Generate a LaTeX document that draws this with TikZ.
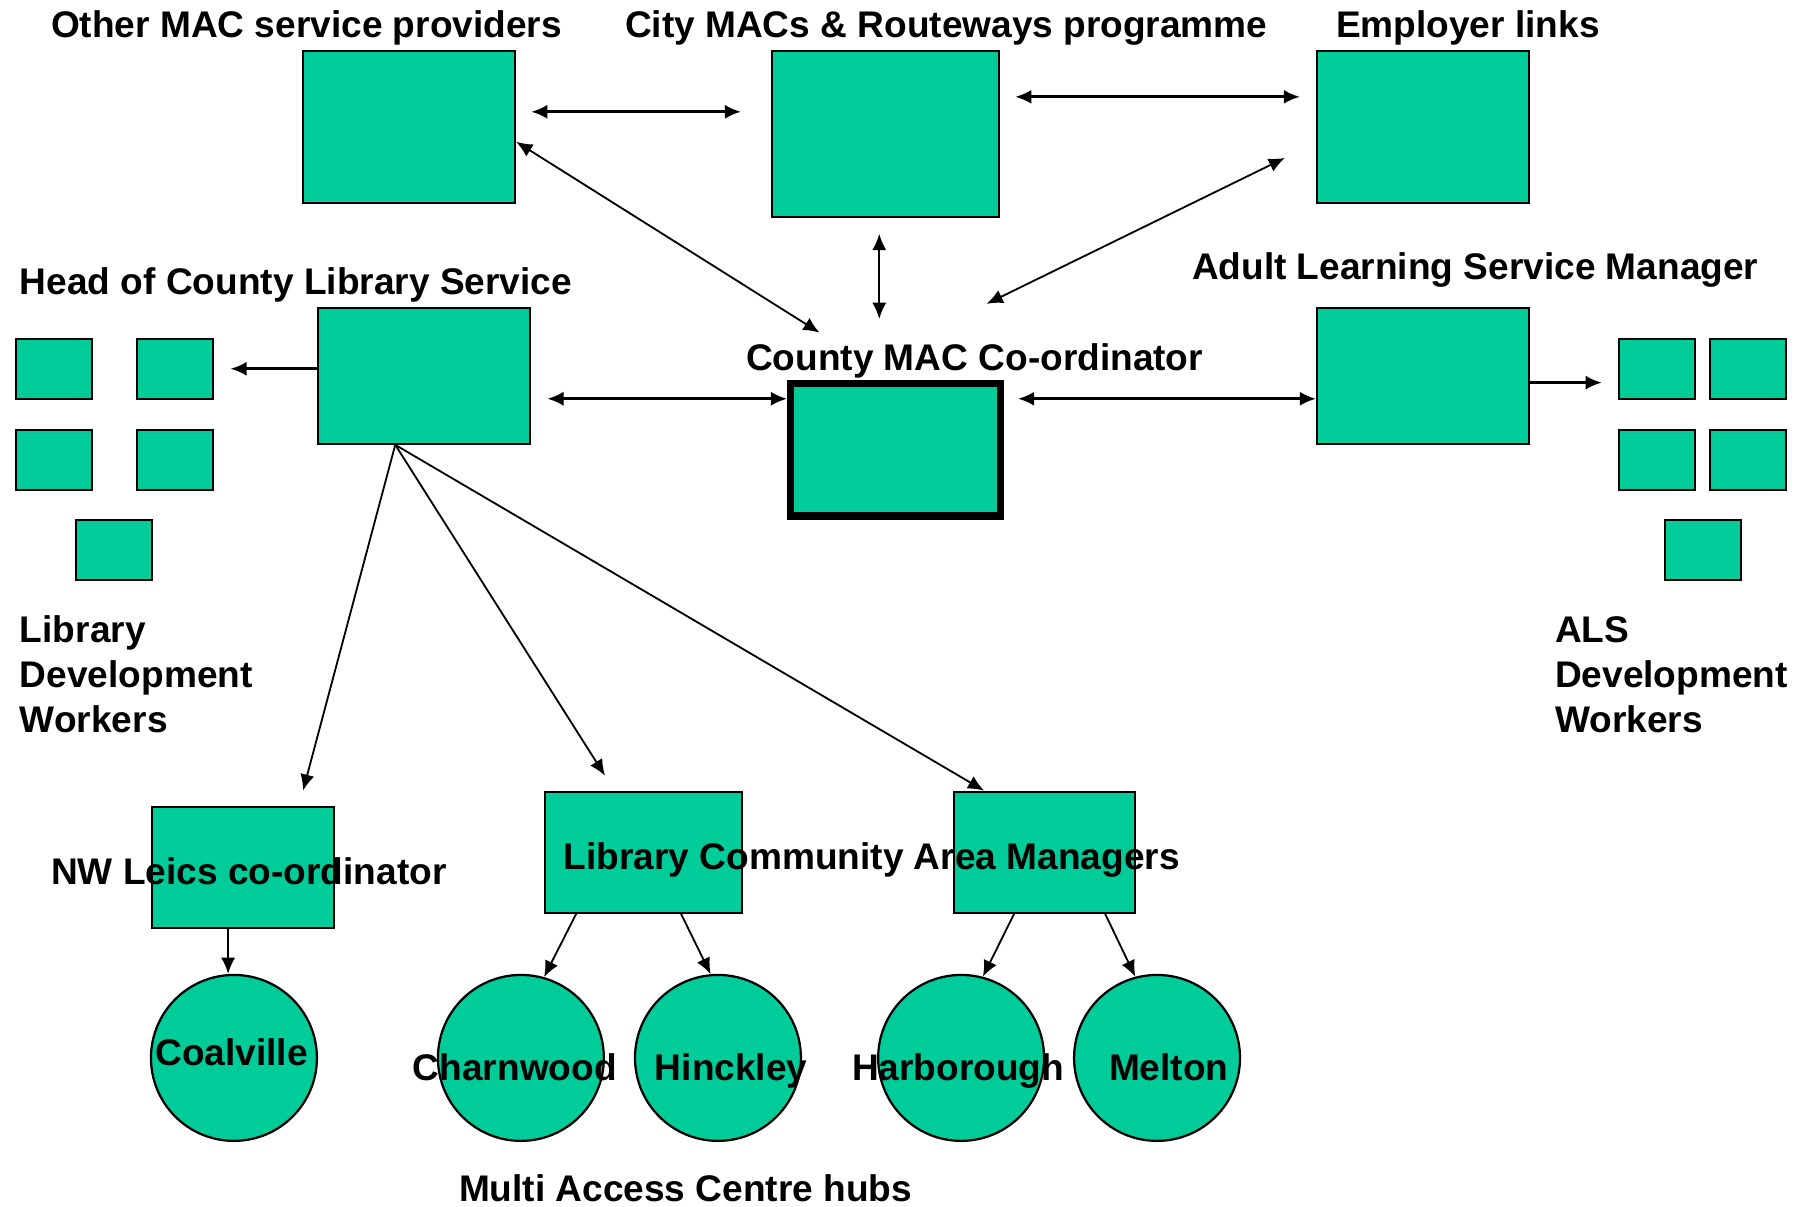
\documentclass[tikz,border=0pt]{standalone}
\usepackage{fontspec}
\setmainfont{Liberation Sans}
\usepackage{tikz}
\usetikzlibrary{arrows.meta}
\definecolor{macgreen}{RGB}{0,204,153}

\tikzset{
  box/.style={rectangle, draw=black, line width=1.1pt, fill=macgreen, anchor=south west, inner sep=0pt},
  hub/.style={circle, draw=black, line width=1.1pt, fill=macgreen, minimum size=2.88cm, inner sep=0pt},
  lbl/.style={anchor=base west, inner sep=0pt, font=\fontsize{18.3}{22.1}\selectfont\bfseries},
}

\begin{document}
\begin{tikzpicture}
\useasboundingbox (0,0) rectangle (31.36,20.94);

% top row
\node at (5.24,17.40) [box, minimum width=3.68cm, minimum height=2.64cm] (op) {};
\node at (13.38,17.16) [box, minimum width=3.94cm, minimum height=2.88cm] (city) {};
\node at (22.84,17.40) [box, minimum width=3.68cm, minimum height=2.64cm] (emp) {};
\node [lbl] at (0.88,20.29) (opt) {Other MAC service providers};
\node [lbl] at (10.84,20.29) (cityt) {City MACs \& Routeways programme};
\node [lbl] at (23.18,20.29) (empt) {Employer links};

% middle row
\node at (5.50,13.22) [box, minimum width=3.68cm, minimum height=2.36cm] (head) {};
\node at (13.66,11.92) [box, line width=3.6pt, minimum width=3.64cm, minimum height=2.30cm] (coord) {};
\node at (22.84,13.22) [box, minimum width=3.68cm, minimum height=2.36cm] (als) {};
\node [lbl] at (0.34,15.83) (headt) {Head of County Library Service};
\node [lbl] at (12.94,14.51) (coordt) {County MAC Co-ordinator};
\node [lbl] at (20.68,16.09) (alst) {Adult Learning Service Manager};

% development workers
\foreach \x/\y/\n in {0.26/14.00/1, 2.36/14.00/2, 0.26/12.42/3, 2.36/12.42/4, 1.30/10.86/5}
  \node at (\x,\y) [box, minimum width=1.32cm, minimum height=1.04cm] (lib\n) {};
\foreach \x/\y/\n in {28.08/14.00/1, 29.66/14.00/2, 28.08/12.42/3, 29.66/12.42/4, 28.88/10.86/5}
  \node at (\x,\y) [box, minimum width=1.32cm, minimum height=1.04cm] (ald\n) {};
\node [lbl, align=left] at (0.34,8.23) (libt) {Library\\Development\\Workers};
\node [lbl, align=left] at (26.98,8.23) (aldt) {ALS\\Development\\Workers};

% area level
\node at (2.62,4.82) [box, minimum width=3.16cm, minimum height=2.10cm] (nw) {};
\node at (9.44,5.08) [box, minimum width=3.42cm, minimum height=2.10cm] (lcm) {};
\node at (16.54,5.08) [box, minimum width=3.14cm, minimum height=2.10cm] (area) {};
\node [lbl] at (0.88,5.59) (nwt) {NW Leics co-ordinator};
\node [lbl] at (9.78,5.85) (lcmt) {Library Community Area Managers};

% hubs
\node at (4.06,2.58) [hub] (coal) {};
\node at (9.04,2.58) [hub] (charn) {};
\node at (12.46,2.58) [hub] (hinck) {};
\node at (16.68,2.58) [hub] (harb) {};
\node at (20.08,2.58) [hub] (melt) {};
\node [lbl, anchor=base] at (4.02,2.45) (coalt) {Coalville};
\node [lbl] at (7.16,2.19) (charnt) {Charnwood};
\node [lbl] at (11.36,2.19) (hinckt) {Hinckley};
\node [lbl] at (14.78,2.19) (harbt) {Harborough};
\node [lbl] at (19.24,2.19) (meltt) {Melton};
\node [lbl] at (7.96,0.08) (hubt) {Multi Access Centre hubs};

\begin{scope}[>={Latex[length=8pt,width=7pt]}, line width=0.9pt]
	\draw [<->, line width=1.4pt, shorten <=0.26cm, shorten >=0.52cm] ([yshift=0.26cm]op.east) -- ([yshift=0.26cm]op.east -| city.west);
	\draw [<->, line width=1.4pt, shorten <=0.26cm, shorten >=0.28cm] ([yshift=0.64cm]city.east) -- ([yshift=0.64cm]city.east -| emp.west);
	\draw [<->] ([yshift=-0.26cm]op.east) -- ([shift={(-1.32,0.82)}]coord.north);
	\draw [<->, shorten <=0.28cm, shorten >=1.06cm] ([xshift=-0.11cm]city.south) -- ([xshift=-0.11cm]city.south |- coord.north);
	\draw [<->] ([shift={(-0.54,-0.54)}]emp.west) -- ([shift={(1.58,1.32)}]coord.north);
	\draw [<->, line width=1.4pt, shorten <=0.28cm] ([yshift=-0.4cm]head.east) -- ([yshift=-0.4cm]head.east -| coord.west);
	\draw [<->, line width=1.4pt, shorten <=0.24cm] ([yshift=-0.4cm]als.west -| coord.east) -- ([yshift=-0.4cm]als.west);

	\draw [->, line width=1.4pt, shorten >=0.28cm] (head.west |- lib2.east) -- (lib2.east);
	\draw [->, line width=1.4pt, shorten >=0.28cm] ([yshift=-0.12cm]als.east) -- ([yshift=-0.12cm]als.east -| ald1.west);

	\draw [->] ([xshift=-0.5cm]head.south) -- ([shift={(1.04,0.26)}]nw.north);
	\draw [->] ([xshift=-0.5cm]head.south) -- ([shift={(-0.67,0.26)}]lcm.north);
	\draw [->] ([xshift=-0.5cm]head.south) -- ([xshift=-1.05cm]area.north);

	\draw [->] ([xshift=-0.26cm]nw.south) -- ([xshift=-0.26cm]nw.south |- coal.north);
	\draw [->] ([xshift=-1.17cm]lcm.south) -- (charn.74);
	\draw [->] ([xshift=0.65cm]lcm.south) -- (hinck.95);
	\draw [->] ([xshift=-0.53cm]area.south) -- (harb.75);
	\draw [->] ([xshift=1.05cm]area.south) -- (melt.105);
\end{scope}

\end{tikzpicture}
\end{document}
